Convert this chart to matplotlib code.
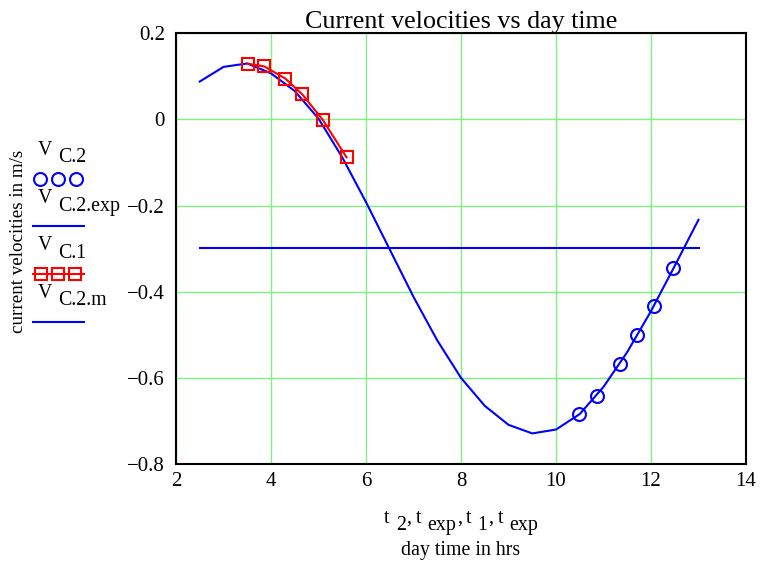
import matplotlib
matplotlib.use("Agg")
import matplotlib.pyplot as plt
from matplotlib.lines import Line2D
from matplotlib.ticker import FuncFormatter

plt.rcParams['font.family'] = ['Liberation Serif', 'DejaVu Serif']

# ---- data ----
t2 = [2.5, 3.0, 3.5, 4.0, 4.5, 5.0, 5.5, 6.0, 6.5, 7.0, 7.5, 8.0,
      8.5, 9.0, 9.5, 10.0, 10.5, 11.0, 11.5, 12.0, 12.5, 13.0]
v_c2_exp = [0.088, 0.122, 0.130, 0.107, 0.066, 0.002, -0.088, -0.192, -0.302,
            -0.412, -0.513, -0.600, -0.665, -0.709, -0.729, -0.720, -0.684,
            -0.621, -0.540, -0.445, -0.340, -0.233]
t_circ = [10.49, 10.86, 11.35, 11.71, 12.06, 12.47]
v_c2 = [-0.684, -0.643, -0.568, -0.501, -0.433, -0.346]
t1 = [3.51, 3.86, 4.30, 4.66, 5.09, 5.59]
v_c1 = [0.1295, 0.123, 0.095, 0.058, -0.001, -0.088]
t_m = [2.5, 13.0]
v_c2_m = [-0.298, -0.298]

xticks = [2, 4, 6, 8, 10, 12, 14]
yticks = [0.2, 0, -0.2, -0.4, -0.6, -0.8]

W, H = 761, 565
fig = plt.figure(figsize=(W / 100, H / 100), dpi=100)
ax = fig.add_axes([176 / W, 1 - 464 / H, (746 - 176) / W, (464 - 33.3) / H])

BLUE = '#0000ff'
RED = '#ff0000'
GREEN = '#80f080'

ax.plot(t_m, v_c2_m, color=BLUE, lw=1.5, zorder=3)
ax.plot(t2, v_c2_exp, color=BLUE, lw=1.5, zorder=3)
ax.plot(t_circ, v_c2, ls='none', marker='o', ms=9.3, mfc='none', mec=BLUE, mew=1.5, zorder=4)
ax.plot(t1, v_c1, color=RED, lw=1.5, marker='s', ms=8.6, mfc='none', mec=RED, mew=1.5, zorder=5)

ax.set_xlim(2, 14)
ax.set_ylim(-0.8, 0.2)
ax.set_xticks(xticks)
ax.set_yticks(yticks)
ax.grid(True, color=GREEN, lw=1.0, zorder=0)
ax.set_axisbelow(True)

def fmt(v, pos):
    if abs(v) < 1e-9:
        return '0'
    s = ('%g' % v)
    return s.replace('-', '\u2212')

ax.yaxis.set_major_formatter(FuncFormatter(fmt))
ax.xaxis.set_major_formatter(FuncFormatter(fmt))
ax.tick_params(length=0, labelsize=15, pad=8)
ax.tick_params(axis='x', pad=6)
for s in ax.spines.values():
    s.set_linewidth(1.5)
    s.set_color('black')

fig.text(0.5 * (176 + 746) / W, 1 - 27.7 / H, 'Current velocities vs day time',
         ha='center', va='baseline', fontsize=18.7)
fig.text(19 / W, 1 - 241 / H, 'current velocities in m/s', rotation=90,
         ha='center', va='center', fontsize=13.7)
fig.text(0.5 * (176 + 746) / W, 1 - 555 / H, 'day time in hrs',
         ha='center', va='baseline', fontsize=14.3)

fig.canvas.draw()
renderer = fig.canvas.get_renderer()

def seq_text(x0, ybase, pieces, size=13, center=False):
    """pieces: list of (string, dy_pixels_down, gap_after_pixels)"""
    objs = []
    x = x0
    for s, dy, gap in pieces:
        t = fig.text(x / W, 1 - (ybase + dy) / H, s, ha='left', va='baseline', fontsize=size)
        bb = t.get_window_extent(renderer=renderer)
        objs.append(t)
        x += bb.width + gap
    if center:
        total = x - x0
        shift = total / 2
        for t in objs:
            px, py = t.get_position()
            t.set_position((px - shift / W, py))
    return objs

# x label first line
seq_text(0.5 * (176 + 746), 523,
         [('t', 0, 6), ('2', 7, 1), (',', 0, 4), ('t', 0, 6), ('exp', 7, 1), (',', 0, 4),
          ('t', 0, 6), ('1', 7, 1), (',', 0, 4), ('t', 0, 6), ('exp', 7, 0)],
         size=14.3, center=True)

# legend
seq_text(38, 155, [('V', 0, 6), ('C.2', 7, 0)], size=14.3)
seq_text(38, 203, [('V', 0, 6), ('C.2.exp', 8, 0)], size=14.3)
seq_text(38, 250, [('V', 0, 6), ('C.1', 8, 0)], size=14.3)
seq_text(38, 298, [('V', 0, 6), ('C.2.m', 7, 0)], size=14.3)

def fy(y):
    return 1 - y / H

fig.add_artist(Line2D([40 / W, 58 / W, 76 / W], [fy(179)] * 3, ls='none', marker='o', ms=9.3,
                      mfc='none', mec=BLUE, mew=1.5, transform=fig.transFigure))
fig.add_artist(Line2D([33 / W, 84 / W], [fy(225.7)] * 2, color=BLUE, lw=1.5,
                      transform=fig.transFigure))
fig.add_artist(Line2D([33 / W, 84 / W], [fy(274.3)] * 2, color=RED, lw=1.5,
                      transform=fig.transFigure))
fig.add_artist(Line2D([41 / W, 58 / W, 75 / W], [fy(274.3)] * 3, ls='none', marker='s', ms=8.6,
                      mfc='none', mec=RED, mew=1.5, transform=fig.transFigure))
fig.add_artist(Line2D([33 / W, 84 / W], [fy(321.7)] * 2, color=BLUE, lw=1.5,
                      transform=fig.transFigure))

fig.savefig('out.png', dpi=100)
